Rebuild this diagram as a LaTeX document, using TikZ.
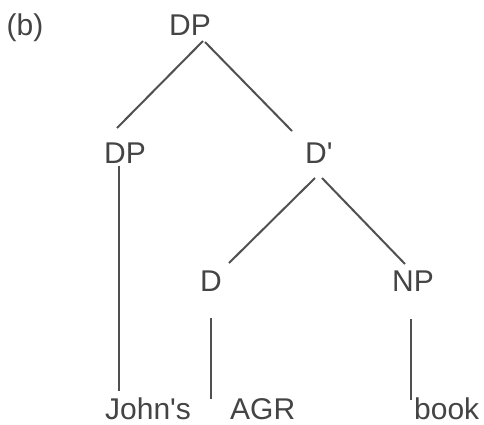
\documentclass[tikz,border=0pt]{standalone}
\usepackage{fontspec}
\setmainfont{Liberation Sans}
\definecolor{ink}{HTML}{444444}
\definecolor{edge}{HTML}{505050}
\begin{document}
\begin{tikzpicture}[x=1pt,y=-1pt,
  lab/.style={anchor=base, inner sep=0pt, font=\fontsize{30}{36}\selectfont, text=ink},
  word/.style={lab, anchor=base west, text depth=0pt},
  br/.style={draw=edge, line width=2pt}]
\useasboundingbox[fill=white] (0,0) rectangle (484,424);
% labels
\node[lab] (b)   at (25,35)  {(b)};
\node[lab] (dpt) at (190,35) {DP};
\node[lab] (dpl) at (125,163) {DP};
\node[lab,anchor=base west] (dbar) at (305,163) {D\textquotesingle};
\node[lab] (d)   at (211,291) {D};
\node[lab] (np)  at (413,291) {NP};
\node[word] (johns) at (105,419) {John\textquotesingle s};
\node[word] (agr)   at (230,419) {AGR};
\node[word] (book)  at (414,419) {book};
% connector ends
\coordinate (dpt-l) at (203,41);
\coordinate (dpt-r) at (205,42);
\coordinate (dpl-t) at (117,128);
\coordinate (dbar-t) at (292,131);
\coordinate (dpl-b) at (119,166);
\coordinate (johns-t) at (119,391);
\coordinate (dbar-l) at (315,178);
\coordinate (dbar-r) at (322,178);
\coordinate (d-t) at (229,263);
\coordinate (np-t) at (405,264);
\coordinate (d-b) at (211,318);
\coordinate (agr-t) at (211,399);
\coordinate (np-b) at (411,319);
\coordinate (book-t) at (411,400);
% branches
\draw[br] (dpt-l) -- (dpl-t);
\draw[br] (dpt-r) -- (dbar-t);
\draw[br] (dpl-b) -- (johns-t);
\draw[br] (dbar-l) -- (d-t);
\draw[br] (dbar-r) -- (np-t);
\draw[br] (d-b) -- (agr-t);
\draw[br] (np-b) -- (book-t);
\end{tikzpicture}
\end{document}
